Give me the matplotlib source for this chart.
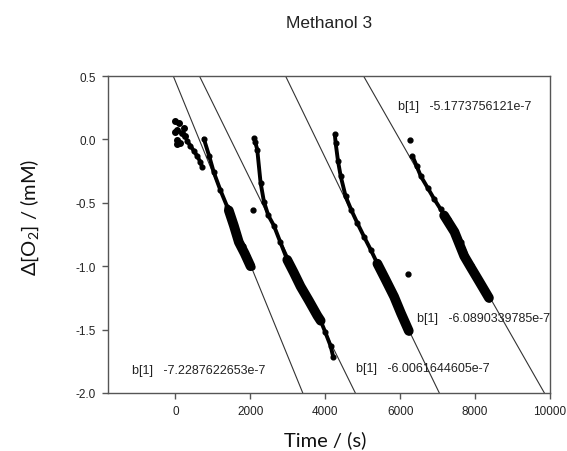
import matplotlib
matplotlib.use("Agg")
import matplotlib.pyplot as plt
import numpy as np

plt.rcParams['axes.unicode_minus'] = False
plt.rcParams['mathtext.default'] = 'regular'

# ---- data (time in s, d[O2] in mM) ----
# run 1a: noisy start
run1a_t = [0, 45, 89, 178, 45, 134, 267, 45, 0, 220, 312, 400, 490, 580, 668, 714]
run1a_y = [0.144, 0.077, 0.13, 0.05, -0.006, -0.03, 0.024, -0.04, 0.06, 0.09, -0.013, -0.05, -0.09, -0.13, -0.18, -0.22]
# run 1b
run1b_t = [757, 900, 1025, 1200, 1381, 1520, 1648, 1800, 1916, 2050]
run1b_y = [0.006, -0.13, -0.26, -0.40, -0.53, -0.64, -0.74, -0.84, -0.92, -1.01]
run1b_dense_t = [1425, 1560, 1693, 1850, 2005]
run1b_dense_y = [-0.56, -0.68, -0.81, -0.90, -1.00]
# run 2
run2_t = [2100, 2130, 2184, 2273, 2362, 2480, 2629, 2800, 2986, 3160, 3342, 3560, 3789, 3877, 4000, 4144, 4216]
run2_y = [0.01, -0.02, -0.08, -0.34, -0.49, -0.60, -0.68, -0.81, -0.95, -1.05, -1.16, -1.27, -1.39, -1.43, -1.52, -1.63, -1.72]
run2_dense_t = [2986, 3160, 3342, 3560, 3789, 3877]
run2_dense_y = [-0.95, -1.05, -1.16, -1.27, -1.39, -1.43]
# run 3
run3_t = [4255, 4278, 4340, 4412, 4545, 4700, 4857, 5040, 5214, 5392, 5481, 5660, 5838, 6020, 6195, 6239]
run3_y = [0.04, -0.03, -0.17, -0.29, -0.45, -0.56, -0.66, -0.77, -0.87, -0.98, -1.03, -1.13, -1.24, -1.37, -1.50, -1.52]
run3_dense_t = [5392, 5600, 5838, 6020, 6230]
run3_dense_y = [-0.98, -1.10, -1.24, -1.37, -1.51]
# run 4
run4_t = [6328, 6440, 6551, 6730, 6907, 7080, 7264, 7440, 7620, 7888, 8110, 8334, 8380]
run4_y = [-0.13, -0.21, -0.29, -0.38, -0.47, -0.55, -0.63, -0.72, -0.81, -0.99, -1.11, -1.24, -1.26]
run4_dense_t = [7174, 7450, 7709, 7888, 8110, 8370]
run4_dense_y = [-0.60, -0.73, -0.92, -1.01, -1.12, -1.25]
# isolated points
single_t = [2067, 6221, 6266]
single_y = [-0.56, -1.06, -0.005]

# linear fits: slope b[1] in M/s, intercept in mM
fit_b = [-7.2287622653e-7, -6.0061644605e-7, -6.0890339785e-7, -5.1773756121e-7]
fit_a = [0.458, 0.885, 2.29, 3.10]
fit_labels = ["b[1]   -7.2287622653e-7", "b[1]   -6.0061644605e-7",
              "b[1]   -6.0890339785e-7", "b[1]   -5.1773756121e-7"]
label_t = [-1158, 4813, 6444, 5936]
label_y = [-1.82, -1.806, -1.41, 0.264]

xticks = [0, 2000, 4000, 6000, 8000, 10000]
yticks = [0.5, 0.0, -0.5, -1.0, -1.5, -2.0]

fig = plt.figure(figsize=(5.67, 4.52), dpi=100)
ax = fig.add_axes([108/567, 1-394/452, 442/567, 317/452])

# fit lines
tt = np.array([-2000.0, 11000.0])
for a, b in zip(fit_a, fit_b):
    ax.plot(tt, a + b * 1000 * tt, color='#333333', lw=0.8, zorder=1)

thin = dict(color='black', lw=2.8, marker='o', ms=3.4, solid_capstyle='round', zorder=3)
thick = dict(color='black', lw=7.0, solid_capstyle='round', zorder=3)
ax.plot(run1a_t[:10], run1a_y[:10], ls='none', marker='o', ms=4, color='black', zorder=3)
ax.plot(run1a_t[10:], run1a_y[10:], **thin)
ax.plot(run1b_t, run1b_y, **thin)
ax.plot(run1b_dense_t, run1b_dense_y, **thick)
ax.plot(run2_t, run2_y, **thin)
ax.plot(run2_dense_t, run2_dense_y, **thick)
ax.plot(run3_t, run3_y, **thin)
ax.plot(run3_dense_t, run3_dense_y, **thick)
ax.plot(run4_t, run4_y, **thin)
ax.plot(run4_dense_t, run4_dense_y, **thick)
ax.plot(single_t, single_y, ls='none', marker='o', ms=3.5, color='black', zorder=3)

for lab, x, y in zip(fit_labels, label_t, label_y):
    ax.text(x, y, lab, fontsize=9, family='Liberation Sans', color='#222222',
            va='center', ha='left', zorder=4)

ax.set_xlim(-1800, 10000)
ax.set_ylim(-2.0, 0.5)
ax.set_xticks(xticks)
ax.set_yticks(yticks)
ax.set_yticklabels(["%.1f" % v for v in yticks])
for s in ax.spines.values():
    s.set_color('#555555')
    s.set_linewidth(1.0)
ax.tick_params(direction='out', length=4, width=1, color='#555555',
               labelsize=8.5, labelcolor='#222222', pad=5)
for lbl in ax.get_xticklabels() + ax.get_yticklabels():
    lbl.set_family('Liberation Sans')

ax.set_xlabel("Time / (s)", fontsize=14.5, family='Lato', color='#111111', va='center')
ax.xaxis.set_label_coords(0.491, -0.145)
ax.set_ylabel(r"$\Delta$[O$_2$] / (mM)", fontsize=14.5, family='Lato', color='#111111', va='center')
ax.yaxis.set_label_coords(-0.176, 0.558)

fig.text(329/567, 1-23/452, "Methanol 3", fontsize=12.5, family='Liberation Sans',
         ha='center', va='center', color='#222222')

fig.savefig("out.png", dpi=100)
